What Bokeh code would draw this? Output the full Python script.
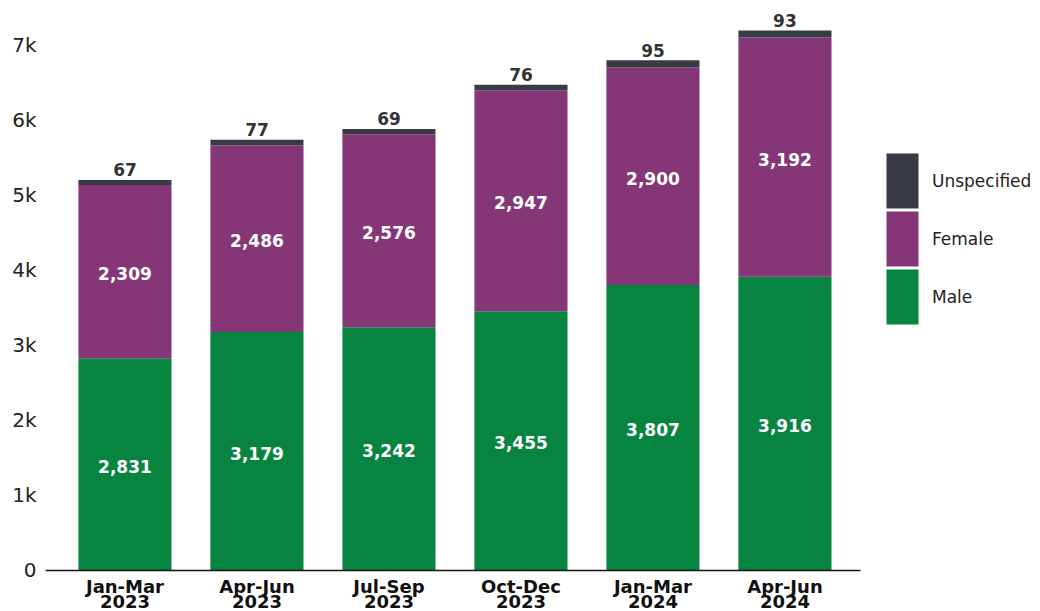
from bokeh.plotting import figure
from bokeh.models import ColumnDataSource, Legend, LegendItem, FixedTicker, NumeralTickFormatter, Range1d
from bokeh.core.properties import value
from bokeh.embed import file_html
from bokeh.resources import INLINE

periods = ["Jan-Mar\n2023", "Apr-Jun\n2023", "Jul-Sep\n2023", "Oct-Dec\n2023", "Jan-Mar\n2024", "Apr-Jun\n2024"]
male = [2831, 3179, 3242, 3455, 3807, 3916]
female = [2309, 2486, 2576, 2947, 2900, 3192]
unspecified = [67, 77, 69, 76, 95, 93]
y_ticks = [0, 1000, 2000, 3000, 4000, 5000, 6000, 7000]

GREEN = "#07843f"
PURPLE = "#843677"
DARK = "#383b45"
FONT = "DejaVu Sans"

# layout (screen geometry)
X_LO, X_HI = -0.602, 6.936      # frame extends over the legend area
AXIS_END = 5.572                # where the baseline stops
Y_LO, Y_HI = -547, 7600

x = list(range(len(periods)))
src = ColumnDataSource(dict(x=x, Male=male, Female=female, Unspecified=unspecified))

p = figure(width=1040, height=611, output_backend="svg", toolbar_location=None,
           x_range=Range1d(X_LO, X_HI), y_range=Range1d(Y_LO, Y_HI),
           min_border_left=45, min_border_right=0, min_border_top=0, min_border_bottom=0)
p.outline_line_color = None
p.xgrid.visible = False
p.ygrid.visible = False
p.background_fill_color = "white"
p.border_fill_color = "white"
p.xaxis.visible = False

rs = p.vbar_stack(["Male", "Female", "Unspecified"], x="x", width=0.705,
                  color=[GREEN, PURPLE, DARK], line_color=None, source=src)

# baseline (x axis line)
p.segment(x0=[X_LO], x1=[AXIS_END], y0=[0], y1=[0], line_color="#111111", line_width=1.6)

# in-segment labels
male_c = [m / 2 for m in male]
fem_c = [m + f / 2 for m, f in zip(male, female)]
tot = [m + f + u for m, f, u in zip(male, female, unspecified)]
lab_src = ColumnDataSource(dict(
    x=x + x,
    y=male_c + fem_c,
    t=[f"{v:,}" for v in male] + [f"{v:,}" for v in female],
))
p.text(x="x", y="y", text="t", source=lab_src, text_color="white",
       text_font=value(FONT), text_font_size="17px", text_font_style="bold",
       text_align="center", text_baseline="middle", y_offset=2)
top_src = ColumnDataSource(dict(x=x, y=tot, t=[str(v) for v in unspecified]))
p.text(x="x", y="y", text="t", source=top_src, text_color="#333333",
       text_font=value(FONT), text_font_size="17px", text_font_style="bold",
       text_align="center", text_baseline="alphabetic", y_offset=-10)

# category labels (two lines) under the baseline
line1 = [s.split("\n")[0] for s in periods]
line2 = [s.split("\n")[1] for s in periods]
cat_src = ColumnDataSource(dict(x=x, y=[0] * len(x), a=line1, b=line2))
p.text(x="x", y="y", text="a", source=cat_src, text_color="#111111",
       text_font=value(FONT), text_font_size="18px", text_font_style="bold",
       text_align="center", text_baseline="alphabetic", y_offset=16)
p.text(x="x", y="y", text="b", source=cat_src, text_color="#111111",
       text_font=value(FONT), text_font_size="18px", text_font_style="bold",
       text_align="center", text_baseline="alphabetic", y_offset=31)

# y axis
p.yaxis.ticker = FixedTicker(ticks=y_ticks)
p.yaxis.formatter = NumeralTickFormatter(format="0a")
p.yaxis.major_label_text_font = FONT
p.yaxis.major_label_text_font_size = "20px"
p.yaxis.major_label_text_color = "#222222"
p.yaxis.axis_line_color = None
p.yaxis.major_tick_out = 0
p.yaxis.major_tick_in = 0
p.yaxis.minor_tick_out = 0
p.yaxis.minor_tick_in = 0
p.yaxis.major_label_standoff = 9

# legend: one single-item legend per series, stacked (Unspecified on top)
legend_entries = [("Unspecified", rs[2], 396), ("Female", rs[1], 338), ("Male", rs[0], 280)]
for label, rend, ypos in legend_entries:
    lg = Legend(items=[LegendItem(label=label, renderers=[rend])],
                location=(837, ypos), glyph_width=40, glyph_height=69, spacing=0,
                padding=0, margin=0, label_standoff=10,
                label_text_font=FONT, label_text_font_size="17px", label_text_color="#222222",
                border_line_color=None, background_fill_alpha=0)
    p.add_layout(lg)

open("out.html", "w").write(file_html(p, INLINE))
